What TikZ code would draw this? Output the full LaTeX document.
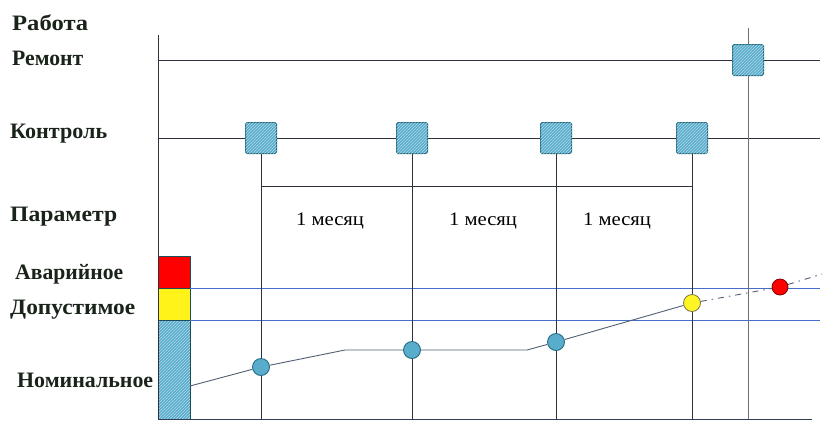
\documentclass[tikz,border=0pt]{standalone}
\usepackage{fontspec}
\setmainfont{Liberation Serif}
\usetikzlibrary{patterns}
\definecolor{boxblue}{RGB}{88,172,204}
\definecolor{boxedge}{RGB}{40,110,130}
\definecolor{lineblue}{RGB}{70,110,200}
\definecolor{darkline}{RGB}{45,50,60}
\definecolor{curvecol}{RGB}{80,95,115}
\definecolor{lblgreen}{RGB}{25,35,25}
\tikzset{
  sqbox/.style={draw=boxedge, line width=1pt, fill=boxblue, rounded corners=1.5pt,
     minimum size=31pt, inner sep=0pt,
     postaction={pattern=north east lines, pattern color=white!55!boxblue}},
  dot/.style={circle, draw=boxedge, line width=0.9pt, fill=boxblue, minimum size=17pt, inner sep=0pt},
  ydot/.style={circle, draw=black!60!yellow, line width=0.8pt, fill=yellow!85!white, minimum size=17pt, inner sep=0pt},
  rdot/.style={circle, draw=red!50!black, line width=0.8pt, fill=red, minimum size=16pt, inner sep=0pt},
  gridline/.style={darkline, line width=0.9pt},
  bluel/.style={lineblue, line width=0.9pt},
  curve/.style={curvecol, line width=0.9pt},
  lbl/.style={anchor=base west, inner sep=0pt, font=\fontsize{22}{22}\selectfont\bfseries, text=lblgreen},
  mlbl/.style={anchor=base, inner sep=0pt, font=\fontsize{19}{19}\selectfont}
}
\begin{document}
\begin{tikzpicture}[x=1pt,y=-1pt]
\useasboundingbox (0,0) rectangle (824,421);
% left labels
\node[lbl] (lw) at (12,30) {\resizebox{76pt}{\height}{Работа}};
\node[lbl] (lr) at (12,65) {\resizebox{71pt}{\height}{Ремонт}};
\node[lbl] (lk) at (10,138) {\resizebox{97pt}{\height}{Контроль}};
\node[lbl] (lp) at (10,221) {\resizebox{107pt}{\height}{Параметр}};
\node[lbl] (la) at (15,279) {\resizebox{108pt}{\height}{Аварийное}};
\node[lbl] (ld) at (10,314) {\resizebox{125pt}{\height}{Допустимое}};
\node[lbl] (ln) at (17,387) {\resizebox{136pt}{\height}{Номинальное}};
% axes coordinates
\coordinate (axtop) at (158,35);
\coordinate (axbot) at (158,419);
\coordinate (botend) at (812,419);
\coordinate (rl) at (158,60);
\coordinate (rr) at (820,60);
\coordinate (kl) at (158,138);
\coordinate (kr) at (820,138);
% colour bars
\fill[red] (158,256) rectangle (190,288);
\fill[yellow!90!white] (158,288) rectangle (190,320);
\path[fill=boxblue, postaction={pattern=north east lines, pattern color=white!55!boxblue}] (158,320) rectangle (190,419);
\draw[boxedge!70!black, line width=0.6pt] (158,256) rectangle (190,419);
\draw[boxedge!70!black, line width=0.5pt] (158,288) -- (190,288) (158,320) -- (190,320);
% blue limit lines
\coordinate (al) at (190,288);
\coordinate (ar) at (820,288);
\coordinate (dl) at (190,320);
\coordinate (dr) at (820,320);
\draw[bluel] (al) -- (ar);
\draw[bluel] (dl) -- (dr);
% main lines
\draw[gridline] (axtop) -- (axbot);
\draw[gridline, draw=darkline!80!lineblue] (axbot) -- (botend);
\draw[gridline] (rl) -- (rr);
\draw[gridline] (kl) -- (kr);
% repair column
\coordinate (rtop) at (748,28);
\coordinate (rbot) at (748,419);
\draw[gridline, draw=darkline!70!white] (rtop) -- (rbot);
\node[sqbox] (sr) at (748,60) {};
% control squares and columns
\foreach \n/\x in {1/261,2/412,3/556,4/692}{
  \node[sqbox] (s\n) at (\x,138) {};
  \coordinate (b\n) at (\x,419);
  \draw[gridline] (s\n.south) -- (b\n);
}
% month bracket
\coordinate (m1) at (261,186);
\coordinate (m4) at (692,186);
\draw[gridline] (m1) -- (m4);
\node[mlbl] (t1) at (330,225) {\resizebox{68pt}{\height}{1 месяц}};
\node[mlbl] (t2) at (483,225) {\resizebox{68pt}{\height}{1 месяц}};
\node[mlbl] (t3) at (617,225) {\resizebox{68pt}{\height}{1 месяц}};
% parameter curve
\coordinate (p0) at (190,386);
\coordinate (p1) at (345,350);
\coordinate (p2) at (527,350);
\coordinate (p3) at (822,274);
\node[dot] (c1) at (261,367) {};
\node[dot] (c2) at (412,350) {};
\node[dot] (c3) at (556,342) {};
\node[ydot] (c4) at (692,303) {};
\node[rdot] (c5) at (780,287) {};
\draw[curve] (p0) -- (c1) -- (p1) -- (c2) -- (p2) -- (c3) -- (c4);
\draw[curve, dash pattern=on 6pt off 5pt on 1.5pt off 5pt] (c4) -- (c5) -- (p3);
\end{tikzpicture}
\end{document}
